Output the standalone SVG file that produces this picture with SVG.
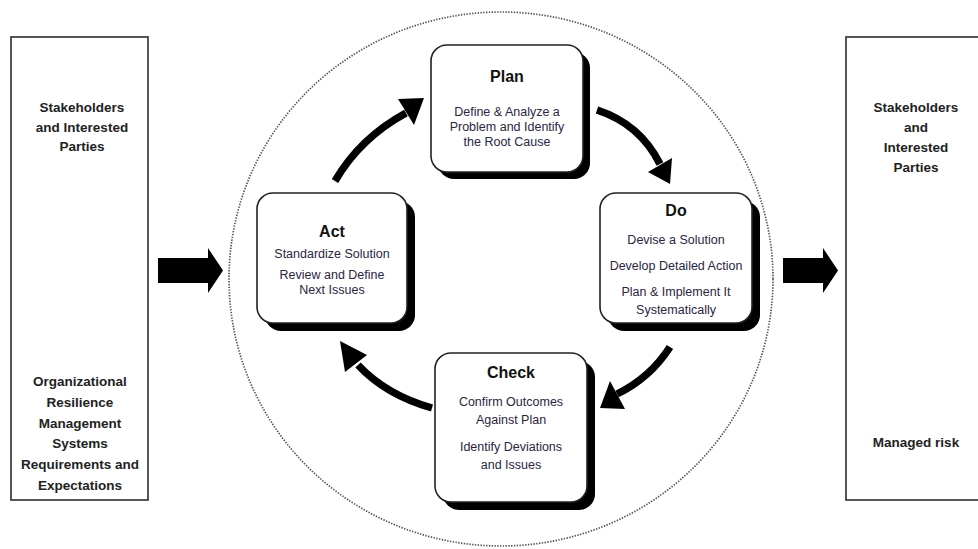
<svg xmlns="http://www.w3.org/2000/svg" width="978" height="549" viewBox="0 0 978 549">
  <style>
    .side { fill: #fff; stroke: #444; stroke-width: 1.8; }
    .side-text { font-family: "Liberation Sans", Arial, sans-serif; font-size: 13.5px; font-weight: bold; fill: #222; text-anchor: middle; }
    .card { fill: #fff; stroke: #222; stroke-width: 1.6; }
    .shadow { fill: #000; }
    .title { font-family: "Liberation Sans", Arial, sans-serif; font-size: 16px; font-weight: bold; fill: #111; text-anchor: middle; }
    .body { font-family: "Liberation Sans", Arial, sans-serif; font-size: 12.5px; fill: #2b2540; text-anchor: middle; }
    .loop { fill: none; stroke: #000; stroke-width: 7.5; stroke-linecap: butt; }
    .head { fill: #000; }
    .block { fill: #000; }
  </style>

  <rect width="978" height="549" fill="#fff"/>

  <!-- dotted cycle boundary -->
  <ellipse id="cycle" cx="501" cy="279" rx="272" ry="267" fill="none" stroke="#555" stroke-width="1.7" stroke-dasharray="1.4 1.4"/>

  <!-- inputs -->
  <g id="inputs">
    <rect class="side" x="11" y="37" width="137" height="463"/>
    <text class="side-text" x="82" y="112">Stakeholders</text>
    <text class="side-text" x="82" y="132">and Interested</text>
    <text class="side-text" x="82" y="151">Parties</text>
    <text class="side-text" x="80" y="386">Organizational</text>
    <text class="side-text" x="80" y="407">Resilience</text>
    <text class="side-text" x="80" y="428">Management</text>
    <text class="side-text" x="80" y="448">Systems</text>
    <text class="side-text" x="80" y="469">Requirements and</text>
    <text class="side-text" x="80" y="490">Expectations</text>
  </g>

  <!-- outputs -->
  <g id="outputs">
    <rect class="side" x="846" y="37" width="145" height="463"/>
    <text class="side-text" x="916" y="112">Stakeholders</text>
    <text class="side-text" x="916" y="132">and</text>
    <text class="side-text" x="916" y="152">Interested</text>
    <text class="side-text" x="916" y="172">Parties</text>
    <text class="side-text" x="916" y="447">Managed risk</text>
  </g>

  <!-- Plan -->
  <g id="plan">
    <rect class="shadow" x="438" y="52" width="152" height="127" rx="16"/>
    <rect class="card" x="431" y="45" width="152" height="127" rx="16"/>
    <text class="title" x="507" y="82">Plan</text>
    <text class="body" x="507" y="116">Define &amp; Analyze a</text>
    <text class="body" x="507" y="131">Problem and Identify</text>
    <text class="body" x="507" y="146">the Root Cause</text>
  </g>

  <!-- Do -->
  <g id="do">
    <rect class="shadow" x="608" y="201" width="152" height="130" rx="16"/>
    <rect class="card" x="600" y="193" width="152" height="130" rx="16"/>
    <text class="title" x="676" y="216">Do</text>
    <text class="body" x="676" y="244">Devise a Solution</text>
    <text class="body" x="676" y="270">Develop Detailed Action</text>
    <text class="body" x="676" y="296">Plan &amp; Implement It</text>
    <text class="body" x="676" y="314">Systematically</text>
  </g>

  <!-- Check -->
  <g id="check">
    <rect class="shadow" x="443" y="361" width="152" height="149" rx="16"/>
    <rect class="card" x="435" y="353" width="152" height="149" rx="16"/>
    <text class="title" x="511" y="378">Check</text>
    <text class="body" x="511" y="406">Confirm Outcomes</text>
    <text class="body" x="511" y="424">Against Plan</text>
    <text class="body" x="511" y="451">Identify Deviations</text>
    <text class="body" x="511" y="469">and Issues</text>
  </g>

  <!-- Act -->
  <g id="act">
    <rect class="shadow" x="265" y="201" width="150" height="130" rx="16"/>
    <rect class="card" x="257" y="193" width="150" height="130" rx="16"/>
    <text class="title" x="332" y="237">Act</text>
    <text class="body" x="332" y="258">Standardize Solution</text>
    <text class="body" x="332" y="279">Review and Define</text>
    <text class="body" x="332" y="294">Next Issues</text>
  </g>

  <!-- connectors -->
  <g id="connectors">
    <!-- inputs to cycle -->
    <polygon class="block" points="158,258 208,258 208,248 223,270.5 208,293 208,283 158,283"/>
    <!-- cycle to outputs -->
    <polygon class="block" points="783,258 823,258 823,248 838,270.5 823,293 823,283 783,283"/>

    <!-- Act to Plan -->
    <path class="loop" d="M335,181 Q360,138 406,113"/>
    <polygon class="head" points="398,99 424,98 414,125"/>
    <!-- Plan to Do -->
    <path class="loop" d="M597,110 Q640,124 660,164"/>
    <polygon class="head" points="648,172 672,158 670,184"/>
    <!-- Do to Check -->
    <path class="loop" d="M670,347 Q650,378 617,394"/>
    <polygon class="head" points="610,381 625,409 600,408"/>
    <!-- Check to Act -->
    <path class="loop" d="M432,408 Q386,395 358,365"/>
    <polygon class="head" points="367,355 340,341 345,372"/>
  </g>
</svg>
